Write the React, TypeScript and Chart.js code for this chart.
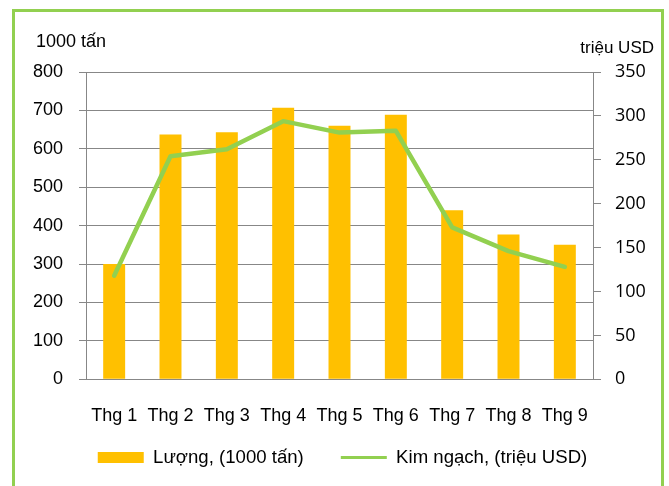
import React, { useEffect, useRef } from "react";
import { Chart, registerables } from "chart.js";

Chart.register(...registerables);

// ---- data ----
const categories = ["Thg 1", "Thg 2", "Thg 3", "Thg 4", "Thg 5", "Thg 6", "Thg 7", "Thg 8", "Thg 9"];
const volume = [300, 637, 643, 707, 660, 689, 440, 377, 350];
const value = [118, 254, 262, 294, 281, 283, 173, 146, 128];
const volumeLabel = "Lượng, (1000 tấn)";
const valueLabel = "Kim ngạch, (triệu USD)";
const leftTitle = "1000 tấn";
const rightTitle = "triệu USD";
const leftMax = 800;
const leftStep = 100;
const rightMax = 350;
const rightStep = 50;

const GRAY = "#878787";
const BAR = "#FFC000";
const LINE = "#92D050";
const FONT_FAMILY = '"Liberation Sans", Arial, sans-serif';

const titlePlugin = {
  id: "axisTitles",
  afterDraw(chart: any) {
    const { ctx, chartArea: a } = chart;
    ctx.save();
    ctx.fillStyle = "#000";
    ctx.textBaseline = "alphabetic";
    ctx.font = `18px ${FONT_FAMILY}`;
    ctx.textAlign = "left";
    ctx.fillText(leftTitle, a.left - 50, a.top - 25);
    ctx.font = `17px ${FONT_FAMILY}`;
    ctx.textAlign = "right";
    ctx.fillText(rightTitle, a.right + 61, a.top - 19);
    ctx.restore();
  },
};

export default function App() {
  const ref = useRef<HTMLCanvasElement | null>(null);

  useEffect(() => {
    if (!ref.current) return;
    const chart = new Chart(ref.current, {
      type: "bar",
      data: {
        labels: categories,
        datasets: [
          {
            type: "bar",
            label: volumeLabel,
            data: volume,
            backgroundColor: BAR,
            borderWidth: 0,
            yAxisID: "y",
            categoryPercentage: 1,
            barPercentage: 0.39,
            order: 2,
          },
          {
            type: "line",
            label: valueLabel,
            data: value,
            borderColor: LINE,
            backgroundColor: LINE,
            borderWidth: 4.5,
            pointRadius: 0,
            tension: 0,
            borderJoinStyle: "round",
            borderCapStyle: "round",
            yAxisID: "y1",
            order: 1,
          },
        ],
      } as any,
      options: {
        animation: false,
        responsive: false,
        maintainAspectRatio: false,
        devicePixelRatio: 1,
        layout: { padding: { top: 72, left: 16, right: 0, bottom: 9.1 } },
        plugins: {
          tooltip: { enabled: false },
          legend: {
            position: "bottom",
            labels: {
              usePointStyle: true,
              pointStyleWidth: 46,
              boxHeight: 11,
              padding: 37,
              color: "#000",
              font: { family: FONT_FAMILY, size: 18.6 },
              generateLabels: () => [
                {
                  text: volumeLabel,
                  fillStyle: BAR,
                  strokeStyle: BAR,
                  lineWidth: 0,
                  pointStyle: "rect",
                  datasetIndex: 0,
                  hidden: false,
                },
                {
                  text: valueLabel,
                  fillStyle: LINE,
                  strokeStyle: LINE,
                  lineWidth: 3,
                  pointStyle: "line",
                  datasetIndex: 1,
                  hidden: false,
                },
              ],
            },
          },
        },
        scales: {
          x: {
            grid: { display: false, drawTicks: false },
            border: { display: true, color: GRAY, width: 1 },
            ticks: {
              mirror: true,
              padding: -48,
              color: "#000",
              font: { family: FONT_FAMILY, size: 18 },
              maxRotation: 0,
              autoSkip: false,
            },
            afterFit(s: any) {
              s.height = 32;
            },
          },
          y: {
            position: "left",
            min: 0,
            max: leftMax,
            ticks: {
              stepSize: leftStep,
              padding: 16,
              color: "#000",
              font: { family: FONT_FAMILY, size: 18 },
            },
            grid: { color: GRAY, tickColor: GRAY, tickLength: 7, lineWidth: 1 },
            border: { display: true, color: GRAY, width: 1 },
            afterFit(s: any) {
              s.width = 70;
            },
          },
          y1: {
            position: "right",
            min: 0,
            max: rightMax,
            ticks: {
              stepSize: rightStep,
              padding: 14,
              color: "#000",
              font: { family: '"Open Sans", sans-serif', size: 18 },
            },
            grid: { drawOnChartArea: false, color: GRAY, tickColor: GRAY, tickLength: 8, lineWidth: 1 },
            border: { display: true, color: GRAY, width: 1 },
            afterFit(s: any) {
              s.width = 76;
            },
          },
        },
      } as any,
      plugins: [titlePlugin],
    });
    return () => chart.destroy();
  }, []);

  return (
    <div
      style={{
        position: "absolute",
        left: 0,
        top: 0,
        width: 669,
        height: 486,
        overflow: "hidden",
        background: "#fff",
      }}
    >
      <div
        style={{
          position: "absolute",
          left: 12,
          top: 9,
          width: 652,
          height: 520,
          border: `3px solid ${LINE}`,
          boxSizing: "border-box",
        }}
      />
      <canvas
        ref={ref}
        width={669}
        height={486}
        style={{ position: "absolute", left: 0, top: 0, display: "block" }}
      />
    </div>
  );
}
